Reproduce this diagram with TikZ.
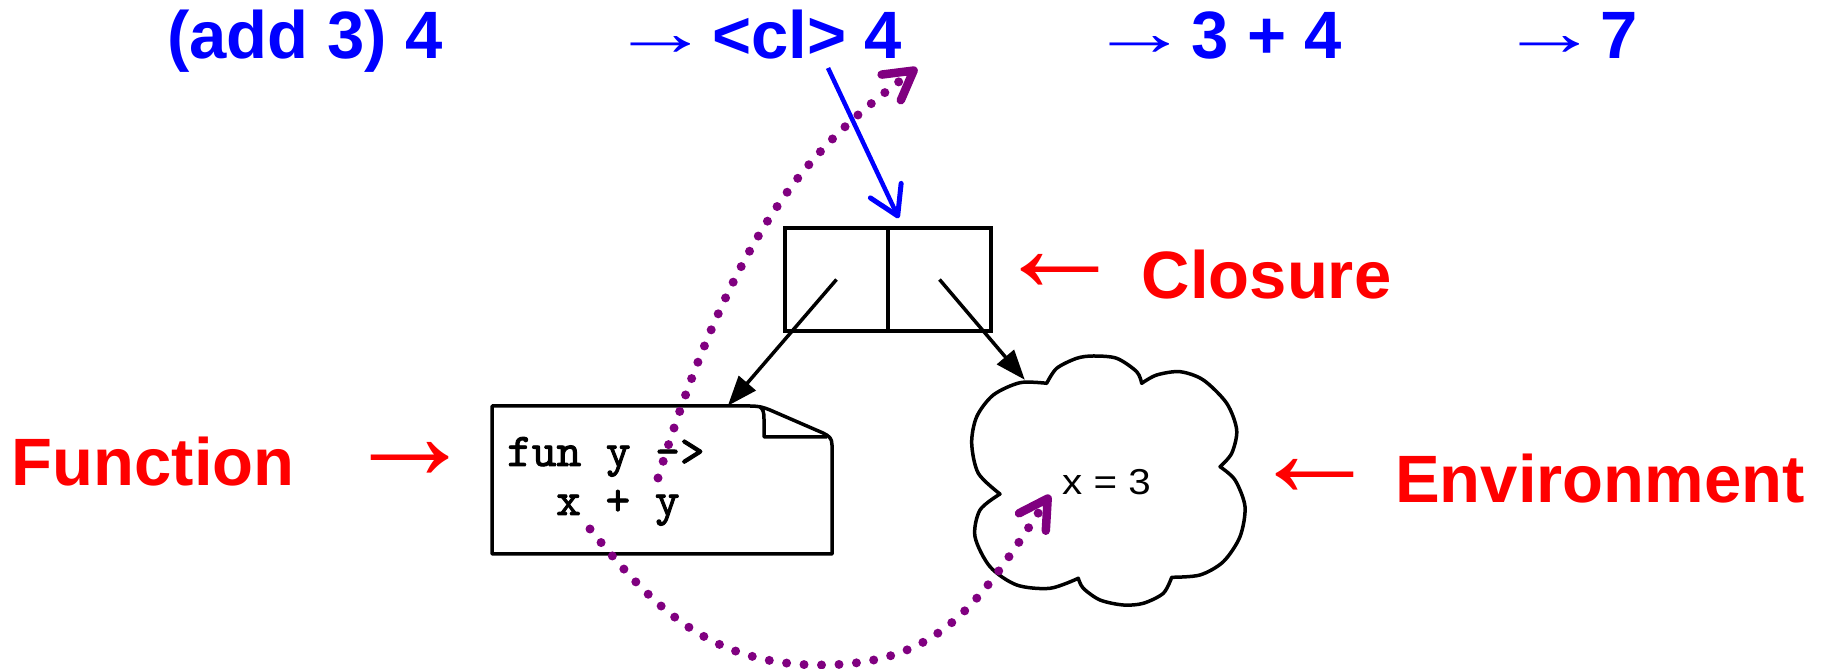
\documentclass[tikz,border=0pt]{standalone}
\usepackage{fontspec}
\setmainfont{Liberation Sans}
\newfontfamily\codefont[FakeBold=2]{lmmono10-regular.otf}
\usetikzlibrary{arrows.meta}
\definecolor{mypurple}{RGB}{128,0,128}
\definecolor{myblue}{RGB}{0,0,255}
\definecolor{myred}{RGB}{255,0,0}
\begin{document}
\begin{tikzpicture}[x=1pt,y=1pt,
  bigtxt/.style={inner sep=0pt, anchor=base west, font=\fontsize{67}{80}\selectfont\bfseries},
  toptxt/.style={bigtxt, text=myblue},
  lbltxt/.style={bigtxt, text=myred},
  toparrow/.style={inner sep=0pt, anchor=base, text=myblue, font=\fontsize{67}{80}\selectfont\bfseries},
  redarrow/.style={inner sep=0pt, text=myred, font=\fontsize{131}{131}\selectfont\bfseries},
  cell/.style={draw, line width=3.5pt, minimum width=103pt, minimum height=103pt, inner sep=0pt},
  codetxt/.style={inner sep=0pt, anchor=base west, font=\codefont\fontsize{47}{49}\selectfont},
  shapeline/.style={line width=3.5pt, line join=round},
  blk/.style={line width=3.5pt, -{Triangle[length=30pt,width=22pt]}},
  bluearr/.style={draw=myblue, line width=4.5pt, -{Straight Barb[length=28pt,width=34pt,line width=5pt,round]}},
  dotarr/.style={draw=mypurple, line width=9pt, dash pattern=on 0pt off 17.5pt, line cap=round,
     -{Straight Barb[length=28pt,width=32pt,line width=8.5pt,round]}}
]
\useasboundingbox (0,0) rectangle (1837,669);

% top line
\node[toptxt] (t1) at (167,610) {(add 3) 4};
\node[toparrow] (a1) at (661,613) {\scalebox{1.5}[1]{→}};
\node[toptxt] (t2) at (712,610) {<cl> 4};
\node[toparrow] (a2) at (1140,613) {\scalebox{1.5}[1]{→}};
\node[toptxt] (t3) at (1191,610) {3 + 4};
\node[toparrow] (a3) at (1550,613) {\scalebox{1.5}[1]{→}};
\node[toptxt] (t4) at (1600,610) {7};

% closure
\node[cell] (clL) at (836.5,389.5) {};
\node[cell] (clR) at (939.5,389.5) {};

% function note
\node[inner sep=0pt, minimum width=340pt, minimum height=148pt] (fn) at (662,189) {};
\draw[shapeline] (492,115) -- (492,263) -- (750,263) .. controls (760,263) and (765,261) .. (770,259)
  -- (823,236) .. controls (829,233) and (832,231) .. (832,224) -- (832,115) -- cycle;
\draw[shapeline] (760,262) .. controls (763,260) and (764,257) .. (764,250) -- (764,232) -- (827,232);
\node[codetxt] (fl1) at (507,203) {fun y ->};
\node[codetxt] (fl2) at (556,154) {x + y};

% environment cloud
\node[inner sep=0pt, minimum width=273pt, minimum height=249pt] (env) at (1108.5,188.5) {};
\draw[shapeline]
  plot[smooth] coordinates {(1000,175) (978.3,195.7) (971.7,225.7) (976.7,252.3) (993.3,274) (1020,286.3) (1046.7,285.7)}
  -- plot[smooth] coordinates {(1046.7,285.7) (1056.7,300.7) (1076.7,310.7) (1093.3,313) (1116.7,310.7) (1136.7,297.3) (1141.7,285.7)}
  -- plot[smooth] coordinates {(1141.7,285.7) (1156.7,294) (1180,297.3) (1203.3,289) (1226.7,265.7) (1236.7,239) (1231.7,215.7) (1220,202.3)}
  -- plot[smooth] coordinates {(1220,202.3) (1235,189) (1245,162.3) (1240,132.3) (1223.3,107.3) (1200,94) (1171.7,91.7)}
  -- plot[smooth] coordinates {(1171.7,91.7) (1163.3,75.7) (1143.3,65.7) (1123.3,64) (1100,69) (1083.3,80.7) (1078.3,90.7)}
  -- plot[smooth] coordinates {(1078.3,90.7) (1050,80.7) (1016.7,84) (990,102.3) (975,132.3) (980,159) (1000,175)}
  -- cycle;
\node[inner sep=0pt, anchor=base west, font=\fontsize{36}{40}\selectfont] (envtxt) at (1062,174) {\scalebox{1.12}[1]{x = 3}};

% red labels
\node[lbltxt] (lfun) at (11.6,183) {Function};
\node[redarrow] (rfun) at (410,208) {→};
\node[lbltxt] (lclo) at (1141.6,370) {Closure};
\node[redarrow] (rclo) at (1060,396) {←};
\node[lbltxt] (lenv) at (1395,166) {Environment};
\node[redarrow] (renv) at (1315,191) {←};

% connectors
\draw[blk] (clL.center) -- ([xshift=236pt]fn.north west);
\draw[blk] (clR.center) -- ([shift={(53pt,-24pt)}]env.north west);
\draw[bluearr] ([shift={(116pt,-9pt)}]t2.base west) -- ([shift={(9pt,8pt)}]clL.north east);
\draw[dotarr] ([shift={(151pt,-12pt)}]fl1.base west) .. controls (739.8,458.7) and (821.1,528.8) .. ([shift={(205pt,-9pt)}]t2.base west);
\coordinate (bot) at (820,4);
\draw[dotarr] ([shift={(34pt,-14pt)}]fl2.base west) .. controls (653,62) and (710,4) .. (bot)
  .. controls (940,4) and (979,65) .. ([xshift=-12pt]envtxt.base west);
\end{tikzpicture}
\end{document}
